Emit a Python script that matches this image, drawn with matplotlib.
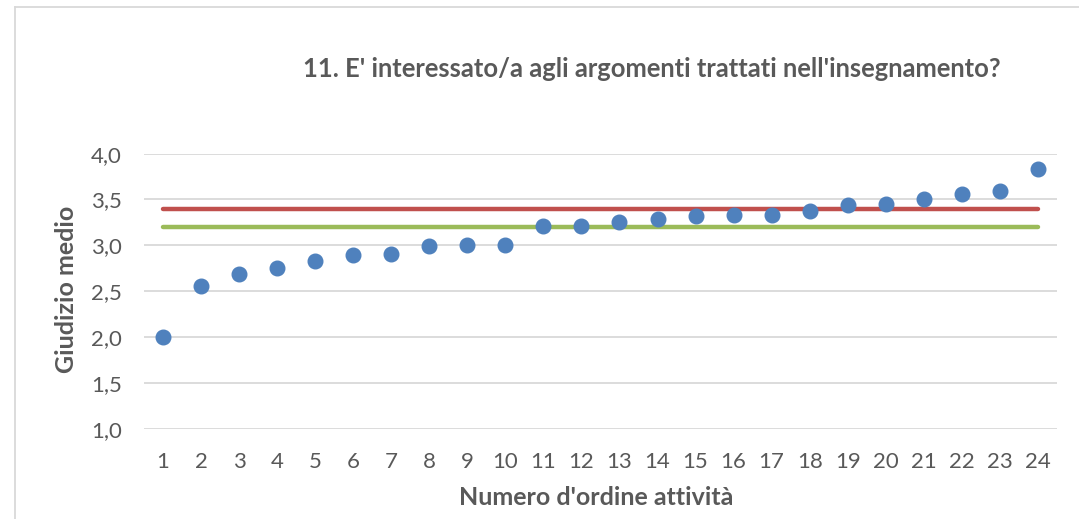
import matplotlib.pyplot as plt
from matplotlib.lines import Line2D

# data
attivita = list(range(1, 25))
giudizio = [2.00, 2.56, 2.69, 2.75, 2.83, 2.89, 2.91, 2.99, 3.00, 3.00, 3.21, 3.21,
            3.25, 3.29, 3.32, 3.33, 3.33, 3.37, 3.44, 3.45, 3.50, 3.56, 3.59, 3.83]
media_rossa = 3.40
media_verde = 3.20
y_ticks = [1.0, 1.5, 2.0, 2.5, 3.0, 3.5, 4.0]

titolo = "11. E' interessato/a agli argomenti trattati nell'insegnamento?"
txt = "#595959"

plt.rcParams['font.family'] = ['Lato', 'DejaVu Sans']

fig = plt.figure(figsize=(10.79, 5.19), dpi=100)
ax = fig.add_axes([0.1335, 0.174, 0.846, 0.530])

ax.plot(attivita, [media_rossa] * len(attivita), color="#C0504D", lw=3.2,
        solid_capstyle='round', zorder=2)
ax.plot(attivita, [media_verde] * len(attivita), color="#9BBB59", lw=3.2,
        solid_capstyle='round', zorder=2)
ax.plot(attivita, giudizio, 'o', color="#4F81BD", markersize=10.5, zorder=3)

ax.set_xlim(0.5, 24.5)
ax.set_ylim(1.0, 4.0)
ax.set_yticks(y_ticks)
ax.set_yticklabels([f"{v:.1f}".replace('.', ',') for v in y_ticks])
ax.set_xticks(attivita)
ax.grid(axis='y', color="#D9D9D9", lw=1.3)
ax.set_axisbelow(True)
for s in ax.spines.values():
    s.set_visible(False)
ax.tick_params(length=0, labelsize=16, colors=txt, pad=17)
ax.tick_params(axis='y', pad=16)

fig.text(0.062, 0.442, "Giudizio medio", rotation=90, ha='center', va='center',
         fontsize=18, fontweight='bold', color=txt)
fig.text(0.553, 0.042, "Numero d'ordine attività", ha='center', va='center',
         fontsize=18, fontweight='bold', color=txt)
fig.text(0.604, 0.868, titolo, ha='center', va='center',
         fontsize=18.4, fontweight='bold', color=txt)

# outer chart border (left and top visible)
fig.add_artist(Line2D([0.014, 0.014], [0, 0.987], color="#D9D9D9", lw=1.3))
fig.add_artist(Line2D([0.014, 1], [0.987, 0.987], color="#D9D9D9", lw=1.3))

fig.savefig("out.png", dpi=100)
plt.close(fig)
